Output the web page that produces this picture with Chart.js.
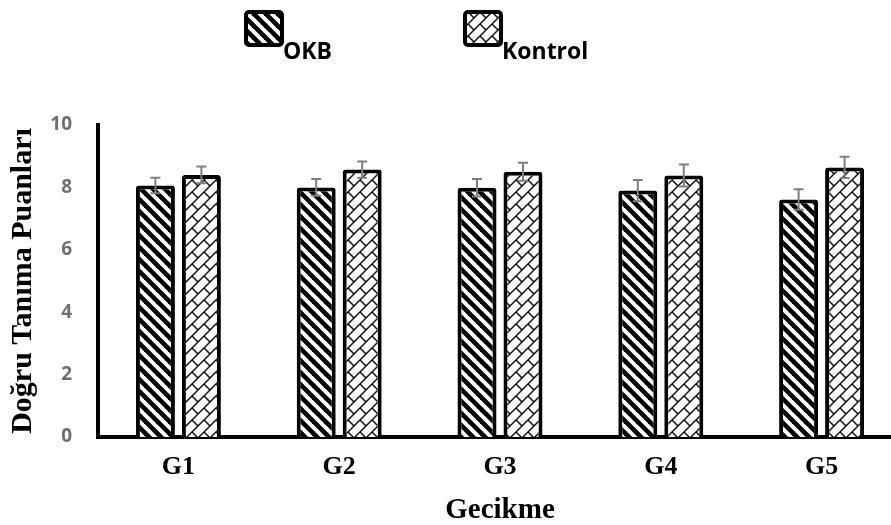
<!DOCTYPE html>
<html>
<head>
<meta charset="utf-8">
<script src="https://cdn.jsdelivr.net/npm/chart.js@4.4.1/dist/chart.umd.min.js"></script>
<style>
  html, body { margin: 0; padding: 0; background: #fff; overflow: hidden; }
  #wrap { width: 905px; height: 525px; }
</style>
</head>
<body>
<div id="wrap"><canvas id="chart" width="905" height="525"></canvas></div>
<script>
// data
const categories = ['G1', 'G2', 'G3', 'G4', 'G5'];
const okbValues = [8.06, 8.0, 7.99, 7.9, 7.61];
const okbErrors = [0.25, 0.27, 0.28, 0.34, 0.33];
const kontrolValues = [8.40, 8.57, 8.50, 8.38, 8.64];
const kontrolErrors = [0.27, 0.26, 0.29, 0.35, 0.34];
const seriesLabels = ['OKB', 'Kontrol'];
const yTitle = 'Doğru Tanıma Puanları';
const xTitle = 'Gecikme';

// thick "\" stripes
function stripePattern(ctx) {
    const n = 12;
    const c = document.createElement('canvas');
    c.width = n; c.height = n;
    const p = c.getContext('2d');
    p.fillStyle = '#fff';
    p.fillRect(0, 0, n, n);
    p.strokeStyle = '#000';
    p.lineWidth = 4.6;
    [-n, 0, n].forEach(off => {
        p.beginPath();
        p.moveTo(-2, -2 + off);
        p.lineTo(n + 2, n + 2 + off);
        p.stroke();
    });
    return ctx.createPattern(c, 'repeat');
}

// diagonal brick
function brickPattern(ctx) {
    const n = 12, h = n / 2;
    const c = document.createElement('canvas');
    c.width = n; c.height = n;
    const p = c.getContext('2d');
    p.fillStyle = '#fff';
    p.fillRect(0, 0, n, n);
    p.strokeStyle = '#111';
    p.lineWidth = 1.5;
    [0, n, 2 * n].forEach(cc => {
        p.beginPath();
        p.moveTo(-1, cc + 1);
        p.lineTo(cc + 1, -1);
        p.stroke();
    });
    p.beginPath();
    [[0, 0], [n, 0], [0, n], [n, n], [-h, h]].forEach(([x, y]) => {
        p.moveTo(x, y); p.lineTo(x + h, y + h);
    });
    p.stroke();
    return ctx.createPattern(c, 'repeat');
}

const canvas = document.getElementById('chart');
const ctx = canvas.getContext('2d');
const okbFill = stripePattern(ctx);
const kontrolFill = brickPattern(ctx);

const errorBars = {
    id: 'errorBars',
    afterDatasetsDraw(chart) {
        const c = chart.ctx;
        const y = chart.scales.y;
        c.save();
        c.strokeStyle = '#7f7f7f';
        c.lineWidth = 2;
        chart.data.datasets.forEach((ds, i) => {
            chart.getDatasetMeta(i).data.forEach((bar, j) => {
                const v = ds.data[j], e = ds.errors[j];
                const top = y.getPixelForValue(v + e);
                const bot = y.getPixelForValue(v - e);
                c.beginPath();
                c.moveTo(bar.x, top); c.lineTo(bar.x, bot);
                c.moveTo(bar.x - 5, top); c.lineTo(bar.x + 5, top);
                c.moveTo(bar.x - 5, bot); c.lineTo(bar.x + 5, bot);
                c.stroke();
            });
        });
        c.restore();
    }
};

const topLegend = {
    id: 'topLegend',
    afterDraw(chart) {
        const c = chart.ctx;
        const spots = [244, 463];
        c.save();
        chart.data.datasets.forEach((ds, i) => {
            const x = spots[i];
            c.beginPath();
            c.roundRect(x + 2, 12, 36, 33, 3);
            c.fillStyle = ds.backgroundColor;
            c.fill();
            c.lineWidth = 4;
            c.strokeStyle = '#000';
            c.stroke();
            c.fillStyle = '#000';
            c.font = 'bold 23px "Open Sans"';
            c.textBaseline = 'alphabetic';
            c.fillText(ds.label, x + 39, 59);
        });
        c.restore();
    }
};

new Chart(ctx, {
    type: 'bar',
    data: {
        labels: categories,
        datasets: [{
            label: seriesLabels[0],
            data: okbValues,
            errors: okbErrors,
            backgroundColor: okbFill,
            borderColor: '#000',
            borderWidth: 4,
            borderRadius: 3,
            borderSkipped: 'bottom',
        }, {
            label: seriesLabels[1],
            data: kontrolValues,
            errors: kontrolErrors,
            backgroundColor: kontrolFill,
            borderColor: '#000',
            borderWidth: 4,
            borderRadius: 3,
            borderSkipped: 'bottom',
        }],
    },
    options: {
        responsive: false,
        animation: false,
        devicePixelRatio: 1,
        categoryPercentage: 0.572,
        barPercentage: 0.848,
        layout: { padding: { top: 125, right: 3, left: 0, bottom: 0 } },
        plugins: {
            legend: { display: false },
            tooltip: { enabled: false },
        },
        scales: {
            x: {
                grid: { display: false, drawTicks: false },
                border: { display: true, color: '#000', width: 4 },
                ticks: {
                    color: '#000',
                    padding: 15,
                    font: { family: '"Liberation Serif"', weight: 'bold', size: 26 },
                },
                title: {
                    display: true,
                    text: xTitle,
                    color: '#000',
                    padding: { top: 1, bottom: 0 },
                    font: { family: '"Liberation Serif"', weight: 'bold', size: 29, lineHeight: 1 },
                },
                afterFit(scale) { scale.height = 88; },
            },
            y: {
                min: 0,
                max: 10,
                grid: { display: false, drawTicks: false },
                border: { display: true, color: '#000', width: 4 },
                ticks: {
                    stepSize: 2,
                    color: '#6f6f6f',
                    padding: 26,
                    font: { family: '"Open Sans"', weight: 'bold', size: 19 },
                },
                title: {
                    display: true,
                    text: yTitle,
                    color: '#000',
                    padding: { top: 8, bottom: 0 },
                    font: { family: '"Liberation Serif"', weight: 'bold', size: 30, lineHeight: 1 },
                },
                afterFit(scale) { scale.width = 98; },
            },
        },
    },
    plugins: [errorBars, topLegend],
});
</script>
</body>
</html>
